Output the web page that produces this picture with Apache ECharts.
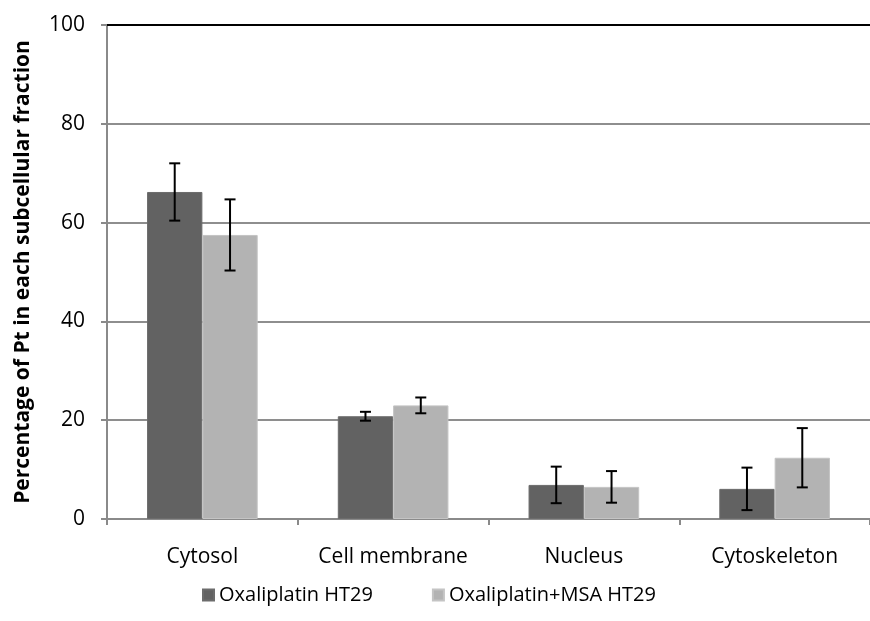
<!DOCTYPE html>
<html>
<head>
<meta charset="utf-8">
<script src="https://cdn.jsdelivr.net/npm/echarts@6/dist/echarts.min.js"></script>
<style>
    html, body { margin: 0; padding: 0; background: #fff; }
    #chart { width: 870px; height: 621px; }
</style>
</head>
<body>
<div id="chart"></div>
<script>
const categories = ['Cytosol', 'Cell membrane', 'Nucleus', 'Cytoskeleton'];
const oxaliplatin = [66.2, 20.8, 6.9, 6.1];
const oxaliplatinErr = [5.8, 0.9, 3.7, 4.3];
const oxaliplatinMsa = [57.5, 23.0, 6.5, 12.4];
const oxaliplatinMsaErr = [7.2, 1.6, 3.2, 6.0];
const yTicks = [0, 20, 40, 60, 80, 100];

const FONT = '"Open Sans", "Liberation Sans", sans-serif';
const barCategoryGap = 0.42;
const barFrac = (1 - barCategoryGap) / 2;

// error bar data: [category index, low, high]
const errData = (vals, errs) => vals.map((v, i) => [i, v - errs[i], v + errs[i]]);

// offset: -1 for first series, +1 for second
const errRenderer = (offset) => (params, api) => {
    const band = api.size([1, 0])[0];
    const hi = api.coord([api.value(0), api.value(2)]);
    const lo = api.coord([api.value(0), api.value(1)]);
    const x = hi[0] + offset * band * barFrac / 2;
    const cap = 5.5;
    const style = { stroke: '#000', lineWidth: 2 };
    return {
        type: 'group',
        children: [
            { type: 'line', shape: { x1: x, y1: hi[1], x2: x, y2: lo[1] }, style },
            { type: 'line', shape: { x1: x - cap, y1: hi[1], x2: x + cap, y2: hi[1] }, style },
            { type: 'line', shape: { x1: x - cap, y1: lo[1], x2: x + cap, y2: lo[1] }, style }
        ]
    };
};

const chart = echarts.init(document.getElementById('chart'));
chart.setOption({
    animation: false,
    color: ['#626262', '#b3b3b3'],
    textStyle: { fontFamily: FONT },
    legend: {
        data: ['Oxaliplatin HT29', 'Oxaliplatin+MSA HT29'],
        left: 197,
        top: 580,
        itemWidth: 11,
        itemHeight: 11,
        itemGap: 59,
        icon: 'rect',
        textStyle: { color: '#000', fontSize: 20, fontFamily: FONT }
    },
    grid: { left: 107, right: 0, top: 25, bottom: 102 },
    xAxis: [
        {
            type: 'category',
            data: categories,
            axisLine: { lineStyle: { color: '#8a8a8a', width: 2 } },
            axisTick: { show: true, interval: 0, length: 6, lineStyle: { color: '#8a8a8a', width: 2 } },
            axisLabel: { color: '#000', fontSize: 21, margin: 28, interval: 0, fontFamily: FONT }
        },
        {
            type: 'category',
            position: 'top',
            data: categories,
            axisLine: { lineStyle: { color: '#000', width: 2 } },
            axisTick: { show: false },
            axisLabel: { show: false }
        }
    ],
    yAxis: {
        type: 'value',
        min: yTicks[0],
        max: yTicks[yTicks.length - 1],
        interval: yTicks[1] - yTicks[0],
        name: 'Percentage of Pt in each subcellular fraction',
        nameLocation: 'middle',
        nameGap: 73,
        nameTextStyle: { color: '#000', fontSize: 21, fontWeight: 'bold', fontFamily: FONT },
        axisLine: { show: true, lineStyle: { color: '#8a8a8a', width: 2 } },
        axisTick: { show: true, length: 6, lineStyle: { color: '#8a8a8a', width: 2 } },
        axisLabel: { color: '#000', fontSize: 21, margin: 22, fontFamily: FONT },
        splitLine: { lineStyle: { color: '#8e8e8e', width: 2 } }
    },
    series: [
        {
            name: 'Oxaliplatin HT29',
            type: 'bar',
            data: oxaliplatin,
            barGap: '0%',
            barCategoryGap: (barCategoryGap * 100) + '%',
            itemStyle: { borderColor: '#6c6c6c', borderWidth: 1 }
        },
        {
            name: 'Oxaliplatin+MSA HT29',
            type: 'bar',
            data: oxaliplatinMsa,
            barGap: '0%',
            barCategoryGap: (barCategoryGap * 100) + '%',
            itemStyle: { borderColor: '#c4c4c4', borderWidth: 1 }
        },
        {
            type: 'custom',
            renderItem: errRenderer(-1),
            data: errData(oxaliplatin, oxaliplatinErr),
            encode: { x: 0, y: [1, 2] },
            z: 10,
            silent: true
        },
        {
            type: 'custom',
            renderItem: errRenderer(1),
            data: errData(oxaliplatinMsa, oxaliplatinMsaErr),
            encode: { x: 0, y: [1, 2] },
            z: 10,
            silent: true
        }
    ]
});
</script>
</body>
</html>
